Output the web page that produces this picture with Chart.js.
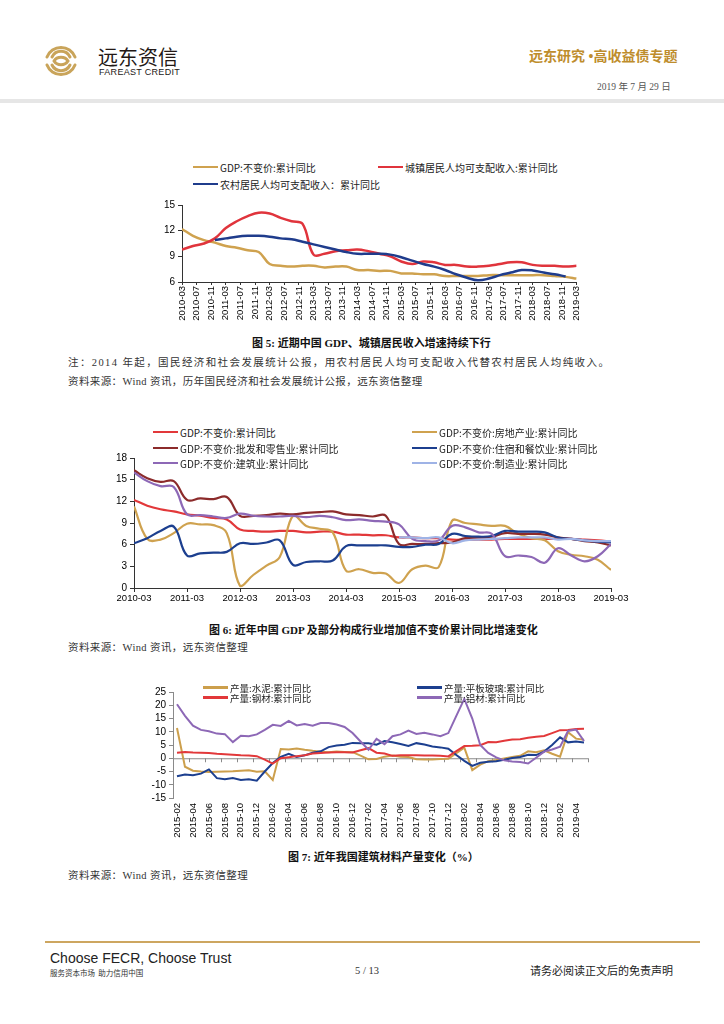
<!DOCTYPE html>
<html>
<head>
<meta charset="utf-8">
<script src="https://cdn.jsdelivr.net/npm/chart.js@4.4.1/dist/chart.umd.min.js"></script>
<style>
body{margin:0;width:724px;height:1024px;position:relative;background:#fff;overflow:hidden;
  font-family:"Liberation Serif","Noto Sans CJK SC",serif;color:#222}
.t{position:absolute;white-space:nowrap;line-height:1}
.box{position:absolute}
.lg{position:absolute;display:flex;align-items:center;height:10px;line-height:1;white-space:nowrap;
  font:10px "Noto Sans CJK SC",sans-serif;color:#222}
.lg i{display:inline-block;width:25px;height:2.5px;margin-right:2px}
.lg.small{font-size:9.5px;height:9px}
.cap{font-family:"Liberation Serif","Noto Sans CJK SC",serif;font-weight:bold;font-size:11px;color:#111}
.src{font-size:10.5px;color:#333}
</style>
</head>
<body>

<!-- header -->
<svg class="box" style="left:44px;top:44px" width="34" height="34" viewBox="0 0 34 34">
  <g fill="none" stroke="#c9a45a" stroke-width="3" stroke-linecap="round">
    <path d="M3 13 A15 15 0 0 1 31 13"/>
    <path d="M8 13 A10 10 0 0 1 26 13"/>
    <path d="M3 21 A15 15 0 0 0 31 21"/>
    <path d="M8 21 A10 10 0 0 0 26 21"/>
    <path d="M10 17 C13 12 21 12 24 17 C21 22 13 22 10 17"/>
  </g>
</svg>
<div class="t" style="left:98px;top:47px;font:20px/1 'Noto Sans CJK SC';color:#231815">远东资信</div>
<div class="t" style="left:99px;top:68px;font:9px/1 'Liberation Sans';letter-spacing:0.3px;color:#231815">FAREAST CREDIT</div>
<div class="t" style="left:529px;top:50px;font:bold 14px/1 'Liberation Serif','Noto Sans CJK SC';color:#be8d2c">远东研究 •高收益债专题</div>
<div class="t" style="left:597px;top:83px;font-size:9.5px;color:#555">2019 年 7 月 29 日</div>
<div class="box" style="left:0;top:99px;width:724px;height:4px;background:#e6e6e6"></div>

<!-- chart areas -->
<div class="box" style="left:142px;top:196px;width:447px;height:131px"><canvas id="c1"></canvas></div>
<div class="box" style="left:104px;top:449px;width:533px;height:164px"><canvas id="c2"></canvas></div>
<div class="box" style="left:133px;top:683px;width:467px;height:160px"><canvas id="c3"></canvas></div>

<!-- captions -->
<div class="t cap" style="left:252px;top:338px">图 5:&nbsp;近期中国 GDP、城镇居民收入增速持续下行</div>
<div class="t src" style="left:68px;top:358px;letter-spacing:1.4px">注：2014 年起，国民经济和社会发展统计公报，用农村居民人均可支配收入代替农村居民人均纯收入。</div>
<div class="t src" style="left:68px;top:377px;letter-spacing:0.4px">资料来源：Wind 资讯，历年国民经济和社会发展统计公报，远东资信整理</div>
<div class="t cap" style="left:209px;top:625px">图 6:&nbsp;近年中国 GDP 及部分构成行业增加值不变价累计同比增速变化</div>
<div class="t src" style="left:68px;top:643px;letter-spacing:0.4px">资料来源：Wind 资讯，远东资信整理</div>
<div class="t cap" style="left:288px;top:852px">图 7:&nbsp;近年我国建筑材料产量变化（%）</div>
<div class="t src" style="left:68px;top:871px;letter-spacing:0.4px">资料来源：Wind 资讯，远东资信整理</div>

<!-- footer -->
<div class="box" style="left:45px;top:941px;width:655px;height:2px;background:#cda660"></div>
<div class="t" style="left:50px;top:951px;font:14px/1 'Liberation Sans';color:#222">Choose FECR, Choose Trust</div>
<div class="t" style="left:50px;top:969px;font:7.5px/1 'Noto Sans CJK SC';color:#333">服务资本市场&nbsp;&nbsp;助力信用中国</div>
<div class="t" style="left:355px;top:966px;font-size:10.5px;color:#333">5 / 13</div>
<div class="t" style="left:530px;top:966px;font-size:11px;color:#222">请务必阅读正文后的免责声明</div>

<script>
// ---- data: figure 5 & 6 (quarterly, cumulative yoy %) ----
var quarters = ['2010-03','2010-06','2010-09','2010-12','2011-03','2011-06','2011-09','2011-12',
  '2012-03','2012-06','2012-09','2012-12','2013-03','2013-06','2013-09','2013-12',
  '2014-03','2014-06','2014-09','2014-12','2015-03','2015-06','2015-09','2015-12',
  '2016-03','2016-06','2016-09','2016-12','2017-03','2017-06','2017-09','2017-12',
  '2018-03','2018-06','2018-09','2018-12','2019-03'];

var gdpTotal = [12.2,11.4,10.9,10.6, 10.2,10.0,9.7,9.5, 8.1,7.9,7.8,7.9, 7.9,7.7,7.8,7.8,
  7.4,7.4,7.3,7.3, 7.0,7.0,6.9,6.9, 6.7,6.7,6.7,6.7, 6.8,6.8,6.8,6.8, 6.8,6.8,6.7,6.6, 6.4];
var urbanIncome = [9.8,10.2,10.5,11.1, 12.3,13.1,13.7,14.1, 14.0,13.5,13.1,12.8, 9.2,9.3,9.6,9.7,
  9.8,9.6,9.3,9.0, 8.4,8.1,8.4,8.3, 8.0,8.0,7.8,7.8, 7.9,8.1,8.3,8.3, 8.0,7.9,7.9,7.8, 7.9];
var ruralIncome = [null,null,null,10.9, 11.1,11.3,11.4,11.4, 11.3,11.1,11.0,10.7, 10.4,10.1,9.8,9.5,
  9.3,9.3,9.3,9.2, 8.9,8.5,8.1,7.8, 7.4,6.9,6.5,6.2, 6.4,6.8,7.1,7.4, 7.35,7.1,6.9,6.65, null];

var gdpRealEstate = [11.3,6.8,6.7,7.6, 8.9,8.8,8.7,7.6, 0.3,1.8,3.1,4.3, 10.0,8.6,8.2,7.7,
  2.4,2.6,2.1,2.0, 0.7,2.6,3.1,2.9, 9.3,9.0,8.8,8.6, 8.6,7.5,6.9,6.6, 5.1,4.6,4.4,3.9, 2.5];
var gdpTrade = [16.3,15.2,14.7,14.8, 12.2,12.4,12.3,12.6, 10.0,10.0,10.1,10.3, 10.2,10.4,10.5,10.6,
  10.2,10.1,9.9,10.0, 6.1,6.1,6.1,6.2, 6.3,6.9,7.0,7.1, 7.6,7.5,7.5,7.4, 7.0,6.8,6.5,6.3, 5.9];
var gdpHotel = [6.2,6.9,7.9,8.5, 4.5,4.8,4.9,5.0, 6.2,6.1,6.3,6.6, 3.2,3.6,3.7,3.8,
  5.8,5.9,5.9,5.9, 5.7,5.7,6.0,6.1, 7.5,7.2,7.1,7.2, 7.9,7.8,7.8,7.7, 7.0,6.8,6.6,6.4, 6.3];
var gdpConstruction = [16.0,14.8,14.1,14.0, 10.2,10.1,9.9,9.7, 10.3,10.0,9.9,9.9, 10.0,9.8,10.0,9.8,
  9.4,9.5,9.3,9.2, 8.8,6.8,6.5,6.6, 8.6,8.4,7.7,7.5, 4.4,4.5,4.3,3.5, 5.5,4.5,3.7,4.4, 6.1];
var gdpManufacturing = [null,null,null,null, null,null,null,null, null,null,null,null, null,null,null,null,
  null,null,null,null, 7.0,7.0,6.9,7.0, 6.2,6.6,6.7,6.8, 6.9,7.0,7.0,7.0, 6.7,6.8,6.6,6.5, 6.5];

// ---- data: figure 7 (monthly output, cumulative yoy %) ----
var months = ['2015-02','2015-03','2015-04','2015-05','2015-06','2015-07','2015-08','2015-09','2015-10','2015-11','2015-12',
  '2016-01','2016-02','2016-03','2016-04','2016-05','2016-06','2016-07','2016-08','2016-09','2016-10','2016-11','2016-12',
  '2017-01','2017-02','2017-03','2017-04','2017-05','2017-06','2017-07','2017-08','2017-09','2017-10','2017-11','2017-12',
  '2018-01','2018-02','2018-03','2018-04','2018-05','2018-06','2018-07','2018-08','2018-09','2018-10','2018-11','2018-12',
  '2019-01','2019-02','2019-03','2019-04','2019-05'];
var cement = [11.4,-3.2,-4.7,-5.0,-5.2,-5.1,-5.0,-4.9,-4.7,-4.5,-5.1,
  -4.9,-8.2,3.5,3.3,3.7,3.2,2.8,2.5,2.3,2.5,2.4,2.3,
  1.0,-0.4,-0.3,0.6,1.0,0.6,0.5,-0.4,-0.5,-0.5,-0.3,-0.2,
  1.9,4.0,-4.5,-2.4,-1.1,-0.7,-0.1,0.5,0.9,2.6,2.3,3.0,
  1.7,0.6,9.8,7.4,7.0];
var flatGlass = [-6.8,-6.1,-6.4,-5.8,-4.2,-7.5,-7.9,-7.5,-8.2,-7.9,-8.5,
  -5.0,-1.8,0.5,1.7,0.5,1.1,2.1,2.6,4.2,4.8,5.1,5.8,
  5.7,5.7,5.1,6.5,6.0,5.4,4.6,5.7,5.2,4.4,4.1,3.6,
  1.2,-1.0,-2.9,-1.7,-1.3,-1.1,-0.6,0.1,0.5,1.3,1.2,2.5,
  5.0,7.9,6.0,6.3,5.9];
var steel = [2.1,2.4,2.2,2.1,2.0,1.7,1.5,1.3,1.1,1.0,0.8,
  -0.5,-2.0,0.0,0.4,0.8,1.1,1.8,2.0,2.2,2.3,2.3,2.2,
  3.0,3.8,2.1,1.8,0.9,1.1,1.1,1.1,1.0,1.0,0.9,0.7,
  2.7,4.6,4.7,4.9,6.1,6.0,6.6,7.1,7.2,7.7,8.1,8.4,
  9.5,10.6,10.7,11.0,11.1];
var aluminum = [20.4,16.0,12.3,10.7,10.2,9.3,9.1,6.1,8.5,8.3,9.0,
  10.7,12.6,12.2,14.1,12.4,12.9,12.3,13.3,13.3,12.7,11.8,9.5,
  6.3,3.2,7.3,5.3,8.3,9.0,10.4,9.2,9.6,9.0,8.3,9.5,
  16.0,22.4,15.0,5.0,2.0,0.3,-0.8,-1.2,-1.4,-2.0,0.2,2.5,
  3.3,4.4,10.3,10.8,6.5];

Chart.defaults.font.family = '"Liberation Sans", Arial, sans-serif';
Chart.defaults.color = '#000';
Chart.defaults.animation = false;

// month offset from 2010-03 and back
function monthIdx(s) { var p = s.split('-'); return (+p[0] - 2010) * 12 + (+p[1] - 3); }
function monthLabel(i) { var t = i + 2; var m = t % 12 + 1; return (2010 + Math.floor(t / 12)) + '-' + (m < 10 ? '0' + m : m); }
function pts(vals) { return quarters.map(function (q, k) { return { x: monthIdx(q), y: vals[k] }; }); }
function line(label, color, data, n, w) {
  return { label: label, data: data, borderColor: color, backgroundColor: color,
           borderWidth: w, pointRadius: 0, fill: false, order: n };
}
function steps(a, b, s) { var r = []; for (var v = a; v <= b; v += s) r.push({ value: v }); return r; }

function legend(chart, spots, cls) {
  chart.data.datasets.forEach(function (ds, i) {
    var d = document.createElement('div');
    d.className = 'lg' + (cls ? ' ' + cls : '');
    d.style.left = spots[i][0] + 'px';
    d.style.top = (spots[i][1] - 5) + 'px';
    d.innerHTML = '<i style="background:' + ds.borderColor + '"></i><span>' + ds.label + '</span>';
    document.body.appendChild(d);
  });
}

var noPlug = { legend: { display: false }, tooltip: { enabled: false } };

// Figure 5
var fig5 = new Chart(document.getElementById('c1'), {
  type: 'line',
  data: {
    datasets: [
      line('GDP:不变价:累计同比', '#cfa24f', pts(gdpTotal), 3, 2.5),
      line('城镇居民人均可支配收入:累计同比', '#e0343c', pts(urbanIncome), 2, 2.5),
      line('农村居民人均可支配收入：累计同比', '#1f3c8c', pts(ruralIncome), 1, 2.5)
    ]
  },
  options: {
    responsive: true, maintainAspectRatio: false,
    layout: { padding: { top: 8, right: 12, left: 0, bottom: 0 } },
    plugins: noPlug,
    elements: { line: { tension: 0.4 } },
    scales: {
      x: {
        type: 'linear', min: 0, max: 108,
        afterBuildTicks: function (s) { s.ticks = steps(0, 108, 4); },
        afterFit: function (s) { s.height = 45; },
        grid: { drawOnChartArea: false, color: '#333', tickLength: 3 },
        border: { color: '#333' },
        ticks: { autoSkip: false, minRotation: 90, maxRotation: 90, padding: 1, font: { size: 9.5 },
                 callback: function (v) { return monthLabel(v); } }
      },
      y: {
        min: 6, max: 15,
        afterBuildTicks: function (s) { s.ticks = steps(6, 15, 3); },
        afterFit: function (s) { s.width = 40; },
        grid: { drawOnChartArea: false, color: '#333', tickLength: 4 },
        border: { color: '#333' },
        ticks: { autoSkip: false, padding: 3, font: { size: 10 } }
      }
    }
  }
});
legend(fig5, [[193, 167], [378, 167], [193, 184]]);

// Figure 6
var fig6 = new Chart(document.getElementById('c2'), {
  type: 'line',
  data: {
    datasets: [
      line('GDP:不变价:累计同比', '#e2383a', pts(gdpTotal), 6, 2.2),
      line('GDP:不变价:房地产业:累计同比', '#cfa24f', pts(gdpRealEstate), 5, 2.2),
      line('GDP:不变价:批发和零售业:累计同比', '#8c2b2b', pts(gdpTrade), 4, 2.2),
      line('GDP:不变价:住宿和餐饮业:累计同比', '#1c3f8f', pts(gdpHotel), 3, 2.2),
      line('GDP:不变价:建筑业:累计同比', '#8d68b6', pts(gdpConstruction), 2, 2.2),
      line('GDP:不变价:制造业:累计同比', '#9fb3e6', pts(gdpManufacturing), 1, 2.2)
    ]
  },
  options: {
    responsive: true, maintainAspectRatio: false,
    layout: { padding: { top: 8, right: 26, left: 0, bottom: 0 } },
    plugins: noPlug,
    elements: { line: { tension: 0.4 } },
    scales: {
      x: {
        type: 'linear', min: 0, max: 108,
        afterBuildTicks: function (s) { s.ticks = steps(0, 108, 12); },
        afterFit: function (s) { s.height = 25; },
        grid: { drawOnChartArea: false, color: '#333', tickLength: 4 },
        border: { color: '#333' },
        ticks: { autoSkip: false, maxRotation: 0, padding: 1, font: { size: 9.5 },
                 callback: function (v) { return monthLabel(v); } }
      },
      y: {
        min: 0, max: 18,
        afterBuildTicks: function (s) { s.ticks = steps(0, 18, 3); },
        afterFit: function (s) { s.width = 30; },
        grid: { drawOnChartArea: false, color: '#333', tickLength: 4 },
        border: { color: '#333' },
        ticks: { autoSkip: false, padding: 3, font: { size: 10 } }
      }
    }
  }
});
legend(fig6, [[153, 432], [412, 432], [153, 448], [412, 448], [153, 463], [412, 463]]);

// Figure 7: zero axis with tick marks between category pairs
var zeroAxis = {
  id: 'zeroAxis',
  beforeDatasetsDraw: function (chart) {
    var x = chart.scales.x, y = chart.scales.y, ctx = chart.ctx, a = chart.chartArea;
    var y0 = y.getPixelForValue(0);
    var w = x.getPixelForValue(1) - x.getPixelForValue(0);
    ctx.save();
    ctx.strokeStyle = '#8a8a8a';
    ctx.lineWidth = 1;
    ctx.beginPath();
    ctx.moveTo(a.left, y0 + 0.5); ctx.lineTo(a.right, y0 + 0.5);
    for (var k = 0; k <= months.length; k += 2) {
      var px = Math.round(x.getPixelForValue(0) - w / 2 + k * w) + 0.5;
      ctx.moveTo(px, y0); ctx.lineTo(px, y0 + 4);
    }
    ctx.stroke();
    ctx.restore();
  }
};

var fig7 = new Chart(document.getElementById('c3'), {
  type: 'line',
  data: {
    labels: months,
    datasets: [
      line('产量:水泥:累计同比', '#cc9f4c', cement, 4, 2),
      line('产量:平板玻璃:累计同比', '#1c3f8f', flatGlass, 3, 2),
      line('产量:钢材:累计同比', '#e2383a', steel, 2, 2),
      line('产量:铝材:累计同比', '#8d68b6', aluminum, 1, 2)
    ]
  },
  plugins: [zeroAxis],
  options: {
    responsive: true, maintainAspectRatio: false,
    layout: { padding: { top: 8, right: 12, left: 0, bottom: 0 } },
    plugins: noPlug,
    elements: { line: { tension: 0 } },
    scales: {
      x: {
        type: 'category', offset: true,
        afterBuildTicks: function (s) { s.ticks = s.ticks.filter(function (t, i) { return i % 2 === 0; }); },
        afterFit: function (s) { s.height = 45; },
        grid: { display: false, drawTicks: false },
        border: { display: false },
        ticks: { autoSkip: false, minRotation: 90, maxRotation: 90, padding: 5, font: { size: 9.5 } }
      },
      y: {
        min: -15, max: 25,
        afterBuildTicks: function (s) { s.ticks = steps(-15, 25, 5); },
        afterFit: function (s) { s.width = 40; },
        grid: { drawOnChartArea: false, color: '#8a8a8a', tickLength: 4 },
        border: { color: '#8a8a8a' },
        ticks: { autoSkip: false, padding: 3, font: { size: 10 } }
      }
    }
  }
});
legend(fig7, [[203, 688], [417, 688], [203, 698], [417, 698]], 'small');
</script>
</body>
</html>
